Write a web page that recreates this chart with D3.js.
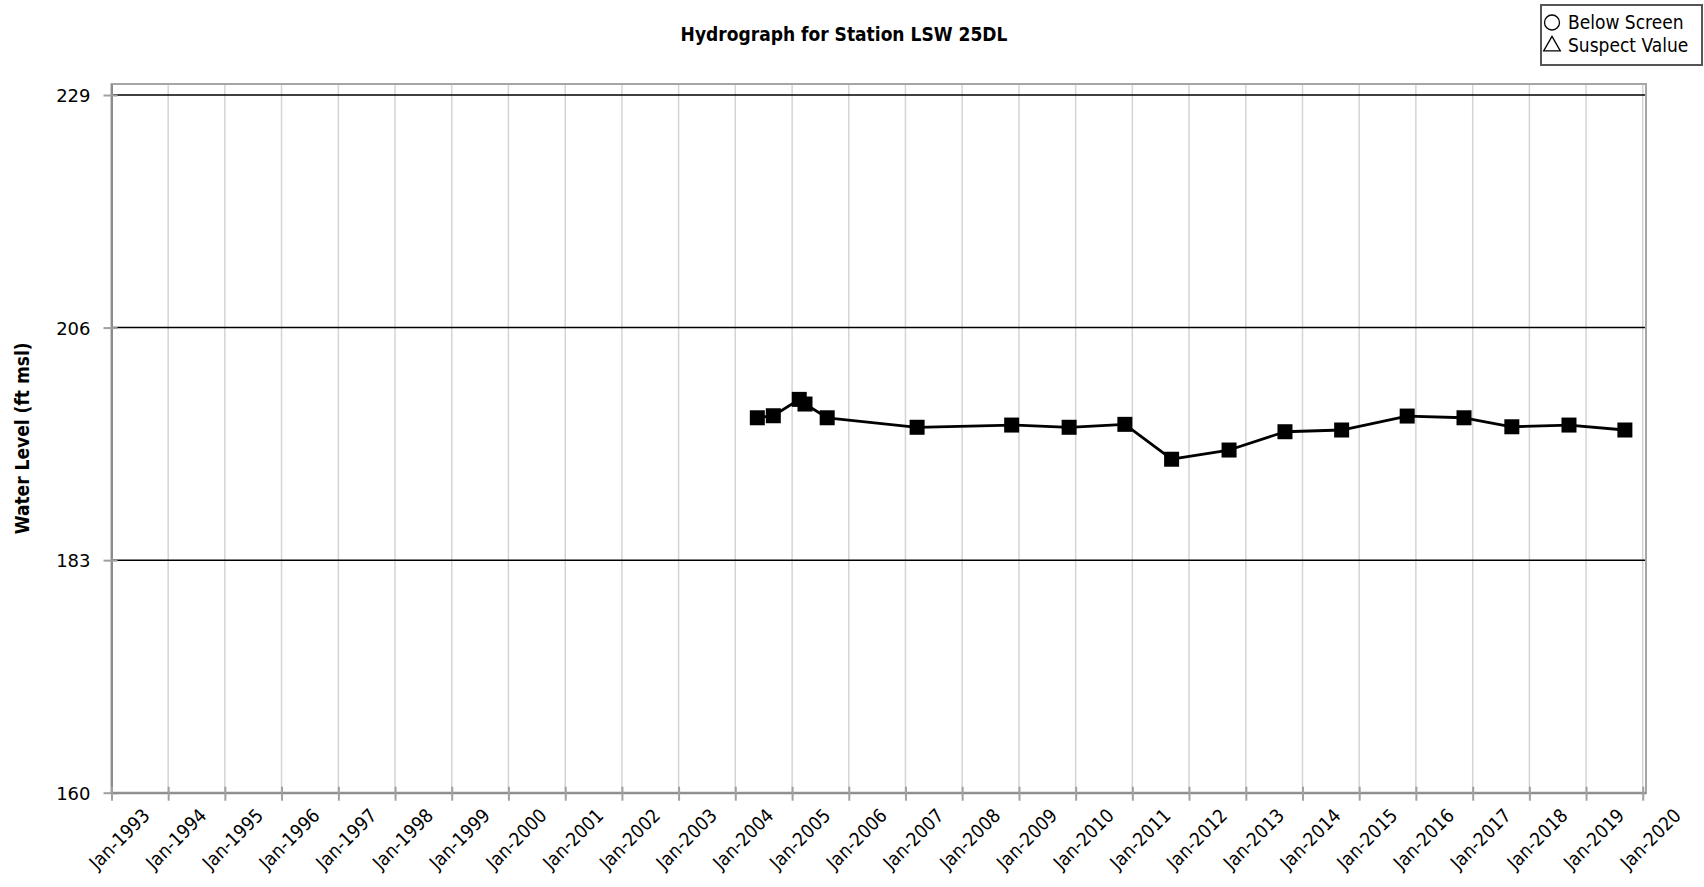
<!DOCTYPE html>
<html>
<head>
<meta charset="utf-8">
<script src="https://cdn.jsdelivr.net/npm/d3@7"></script>
<style>
  html, body { margin: 0; padding: 0; background: #fff; }
  svg { display: block; }
  text { font-family: "DejaVu Sans Condensed", "Noto Sans", sans-serif; fill: #000; }
</style>
</head>
<body>
<svg id="chart" width="1704" height="887"></svg>
<script>
// Measured water levels (ft msl) for station LSW 25DL
const sampleDates = ["2004-05-22", "2004-09-02", "2005-02-16", "2005-03-25", "2005-08-15",
  "2007-03-17", "2008-11-15", "2009-11-20", "2010-11-14", "2011-09-11", "2012-09-15",
  "2013-09-10", "2014-09-10", "2015-11-06", "2016-11-06", "2017-09-10", "2018-09-13", "2019-09-08"];
const waterLevels = [197.08, 197.28, 198.90, 198.44, 197.08,
  196.14, 196.36, 196.14, 196.43, 192.98, 193.89,
  195.70, 195.87, 197.25, 197.08, 196.19, 196.36, 195.87];

// Axis ticks
const yTicks = [160, 183, 206, 229];
const xTickYears = d3.range(1993, 2021);

const legendItems = ["Below Screen", "Suspect Value"];
const chartTitle = "Hydrograph for Station LSW 25DL";
const yAxisTitle = "Water Level (ft msl)";

const parse = d3.timeParse("%Y-%m-%d");
const points = sampleDates.map((d, i) => ({ date: parse(d), value: waterLevels[i] }));

const svg = d3.select("#chart");
const plot = { left: 111.5, right: 1646, top: 84, bottom: 792.7 };

const x = d3.scaleTime()
  .domain([new Date(1993, 0, 1), new Date(2020, 0, 22)])
  .range([plot.left, plot.right]);
const y = d3.scaleLinear()
  .domain([160, 230.09])
  .range([plot.bottom, plot.top]);

const xTicks = xTickYears.map(yr => new Date(yr, 0, 1));
const fmt = d3.timeFormat("%b-%Y");

// Vertical year gridlines
svg.append("g").selectAll("line").data(xTicks).join("line")
  .attr("x1", d => x(d)).attr("x2", d => x(d))
  .attr("y1", plot.top).attr("y2", plot.bottom)
  .attr("stroke", "#d4d4d4").attr("stroke-width", 1.5);

// Horizontal gridlines
svg.append("g").selectAll("line").data(yTicks.filter(v => v > 160)).join("line")
  .attr("x1", plot.left).attr("x2", plot.right)
  .attr("y1", d => y(d)).attr("y2", d => y(d))
  .attr("stroke", "#000").attr("stroke-width", 1.5);

// Plot frame
svg.append("rect")
  .attr("x", plot.left).attr("y", plot.top)
  .attr("width", plot.right - plot.left).attr("height", plot.bottom - plot.top)
  .attr("fill", "none").attr("stroke", "#a6a6a6").attr("stroke-width", 2);

// Y axis
const yAxis = d3.axisLeft(y).tickValues(yTicks).tickSize(8).tickSizeOuter(0).tickPadding(13);
const gy = svg.append("g").attr("transform", `translate(${plot.left},0)`).call(yAxis);
gy.select(".domain").attr("stroke", "#8c8c8c").attr("stroke-width", 2);
gy.selectAll(".tick line").attr("stroke", "#a0a0a0").attr("stroke-width", 2).attr("x2", -8).attr("x1", 6);
gy.selectAll(".tick text")
  .style("font-family", "'DejaVu Sans', sans-serif")
  .style("font-size", "18px").attr("dy", "0.36em");

// X axis
const xAxis = d3.axisBottom(x).tickValues(xTicks).tickFormat(fmt).tickSize(8).tickSizeOuter(0);
const gx = svg.append("g").attr("transform", `translate(0,${plot.bottom})`).call(xAxis);
gx.select(".domain").attr("stroke", "#8c8c8c").attr("stroke-width", 2);
gx.selectAll(".tick line").attr("stroke", "#a0a0a0").attr("stroke-width", 2).attr("y1", -6).attr("y2", 8);
gx.selectAll(".tick text")
  .style("font-size", "19px")
  .attr("text-anchor", "end")
  .attr("dy", null)
  .attr("y", 0)
  .attr("transform", "translate(39,24) rotate(-45)");

// Series line and markers
const line = d3.line().x(d => x(d.date)).y(d => y(d.value));
svg.append("path").datum(points)
  .attr("d", line).attr("fill", "none")
  .attr("stroke", "#000").attr("stroke-width", 2.8).attr("stroke-linejoin", "round");

const m = 15;
svg.append("g").selectAll("rect").data(points).join("rect")
  .attr("x", d => x(d.date) - m / 2).attr("y", d => y(d.value) - m / 2)
  .attr("width", m).attr("height", m).attr("fill", "#000");

// Title
svg.append("text")
  .attr("x", 844).attr("y", 41)
  .attr("text-anchor", "middle")
  .style("font-size", "19px").style("font-weight", "bold")
  .text(chartTitle);

// Y axis title
svg.append("text")
  .attr("transform", `translate(29,${(plot.top + plot.bottom) / 2}) rotate(-90)`)
  .attr("text-anchor", "middle")
  .style("font-size", "19px").style("font-weight", "bold")
  .text(yAxisTitle);

// Legend
const lg = svg.append("g");
lg.append("rect").attr("x", 1541).attr("y", 5).attr("width", 161).attr("height", 60)
  .attr("fill", "#fff").attr("stroke", "#555").attr("stroke-width", 2);
lg.append("circle").attr("cx", 1552).attr("cy", 22.5).attr("r", 7.5)
  .attr("fill", "none").attr("stroke", "#000").attr("stroke-width", 1.3);
lg.append("path")
  .attr("d", d3.symbol().type(d3.symbolTriangle).size(120)())
  .attr("transform", "translate(1552,46)")
  .attr("fill", "none").attr("stroke", "#000").attr("stroke-width", 1.3);
lg.selectAll("text.item").data(legendItems).join("text")
  .attr("class", "item")
  .attr("x", 1568).attr("y", (d, i) => 28.5 + i * 23.5)
  .style("font-size", "19px")
  .text(d => d);
</script>
</body>
</html>
